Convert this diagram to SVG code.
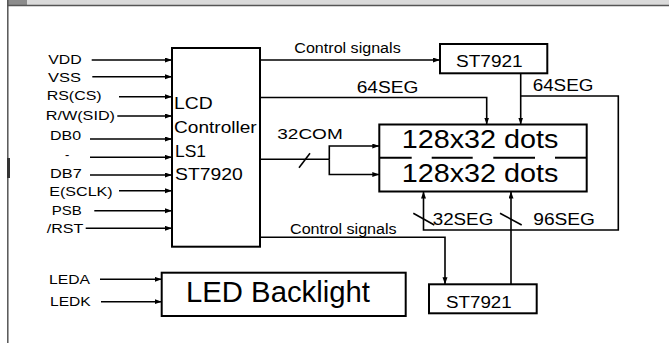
<svg xmlns="http://www.w3.org/2000/svg" width="669" height="343" viewBox="0 0 669 343">
<style>
text{font-family:"Liberation Sans",Arial,sans-serif;fill:#000}
.s{font-size:13px}
.m{font-size:14px}
.l{font-size:16.3px}
.box{fill:#fff;stroke:#000;stroke-width:2}
.c{fill:none;stroke:#000;stroke-width:1.6}
</style>
<defs>
<marker id="ah" markerUnits="userSpaceOnUse" markerWidth="8" markerHeight="6" refX="7" refY="2.5" orient="auto">
<path d="M0,0 L7,2.5 L0,5 z" fill="#000"/>
</marker>
</defs>
<g id="frame">
<rect x="7" y="0" width="662" height="5" fill="#dadada"/>
<rect x="7" y="0" width="20" height="5" fill="#8c8c8c"/>
<line x1="7" y1="5.6" x2="669" y2="5.6" stroke="#555" stroke-width="1.5"/>
<line x1="7.8" y1="0" x2="7.8" y2="343" stroke="#555" stroke-width="1.5"/>
<rect x="7" y="158" width="3" height="20" fill="#333"/>
</g>
<g id="connectors">
<path class="c" marker-end="url(#ah)" d="M91.7,60 H172"/>
<path class="c" marker-end="url(#ah)" d="M92.3,76.7 H172"/>
<path class="c" marker-end="url(#ah)" d="M119,96.7 H172"/>
<path class="c" marker-end="url(#ah)" d="M117.3,116 H172"/>
<path class="c" marker-end="url(#ah)" d="M90,139 H172"/>
<path class="c" marker-end="url(#ah)" d="M90,157.3 H172"/>
<path class="c" marker-end="url(#ah)" d="M90,175 H172"/>
<path class="c" marker-end="url(#ah)" d="M119,190.7 H172"/>
<path class="c" marker-end="url(#ah)" d="M94.3,210.7 H172"/>
<path class="c" marker-end="url(#ah)" d="M85.7,228.3 H172"/>
<path class="c" marker-end="url(#ah)" d="M260,60 H440"/>
<path class="c" marker-end="url(#ah)" d="M260,97.5 H486.7 V124.5"/>
<path class="c" marker-end="url(#ah)" d="M520.7,73.3 V124.5"/>
<path class="c" marker-end="url(#ah)" d="M520.7,96 H618.3 V230 H423.5 V191.5"/>
<path class="c" d="M260,159.3 H329.3"/>
<path class="c" marker-end="url(#ah)" d="M329.3,159.3 V146 H379.3"/>
<path class="c" marker-end="url(#ah)" d="M329.3,159.3 V174.5 H379.3"/>
<path class="c" d="M299,167.7 L310,153.3"/>
<path class="c" marker-end="url(#ah)" d="M260,237.3 H445 V284.3"/>
<path class="c" marker-end="url(#ah)" d="M511,284.3 V191.5"/>
<path class="c" d="M413.3,213.3 L434.3,225"/>
<path class="c" d="M500,213.3 L521.7,225"/>
<path class="c" marker-end="url(#ah)" d="M100,279.3 H161.7"/>
<path class="c" marker-end="url(#ah)" d="M101,301.7 H161.7"/>
</g>
<g id="labels">
<text class="s" x="48.3" y="64.3" textLength="33.4" lengthAdjust="spacingAndGlyphs">VDD</text>
<text class="s" x="48" y="81.7" textLength="33" lengthAdjust="spacingAndGlyphs">VSS</text>
<text class="s" x="46.7" y="100" textLength="55" lengthAdjust="spacingAndGlyphs">RS(CS)</text>
<text class="s" x="45.7" y="120" textLength="69.3" lengthAdjust="spacingAndGlyphs">R/W(SID)</text>
<text class="s" x="50" y="140" textLength="31" lengthAdjust="spacingAndGlyphs">DB0</text>
<text class="s" x="65" y="159">-</text>
<text class="s" x="50" y="178.3" textLength="31.7" lengthAdjust="spacingAndGlyphs">DB7</text>
<text class="s" x="49.3" y="195.5" textLength="63.4" lengthAdjust="spacingAndGlyphs">E(SCLK)</text>
<text class="s" x="51.7" y="215" textLength="30" lengthAdjust="spacingAndGlyphs">PSB</text>
<text class="s" x="46.7" y="233" textLength="36.6" lengthAdjust="spacingAndGlyphs">/RST</text>
<text class="m" x="294.3" y="53.3" textLength="106.4" lengthAdjust="spacingAndGlyphs">Control signals</text>
<text class="l" x="356.7" y="93.3" textLength="61.7" lengthAdjust="spacingAndGlyphs">64SEG</text>
<text class="l" x="532.7" y="91" textLength="60.7" lengthAdjust="spacingAndGlyphs">64SEG</text>
<text style="font-size:15.5px" x="277.3" y="139.3" textLength="65.4" lengthAdjust="spacingAndGlyphs">32COM</text>
<text style="font-size:16px" x="432.7" y="225" textLength="60.6" lengthAdjust="spacingAndGlyphs">32SEG</text>
<text style="font-size:16px" x="533.3" y="225" textLength="61.7" lengthAdjust="spacingAndGlyphs">96SEG</text>
<text class="m" x="290" y="234.3" textLength="106.7" lengthAdjust="spacingAndGlyphs">Control signals</text>
<text class="s" x="49" y="284.3" textLength="41" lengthAdjust="spacingAndGlyphs">LEDA</text>
<text class="s" x="50" y="306" textLength="40.7" lengthAdjust="spacingAndGlyphs">LEDK</text>
</g>
<g id="controller">
<rect class="box" x="172" y="48" width="88" height="198.7"/>
<text style="font-size:16.5px" x="174" y="109.3" textLength="38.7" lengthAdjust="spacingAndGlyphs">LCD</text>
<text style="font-size:16.5px" x="174" y="133" textLength="82.7" lengthAdjust="spacingAndGlyphs">Controller</text>
<text style="font-size:16.5px" x="175" y="156.7" textLength="31" lengthAdjust="spacingAndGlyphs">LS1</text>
<text style="font-size:16.5px" x="175" y="180" textLength="67.7" lengthAdjust="spacingAndGlyphs">ST7920</text>
</g>
<g id="st7921-top">
<rect class="box" x="440" y="44" width="107.3" height="29.3"/>
<text class="l" x="456" y="66.7" textLength="66.7" lengthAdjust="spacingAndGlyphs">ST7921</text>
</g>
<g id="display">
<rect class="box" x="379.3" y="124.5" width="207.4" height="67"/>
<g stroke="#000" stroke-width="2">
<line x1="379.3" y1="157.7" x2="411.7" y2="157.7"/>
<line x1="431.7" y1="157.7" x2="472.7" y2="157.7"/>
<line x1="493.3" y1="157.7" x2="535" y2="157.7"/>
<line x1="555" y1="157.7" x2="586.7" y2="157.7"/>
</g>
<text style="font-size:25.6px" x="401.7" y="148.3" textLength="156.7" lengthAdjust="spacingAndGlyphs">128x32 dots</text>
<text style="font-size:25.6px" x="401.7" y="181.7" textLength="156.7" lengthAdjust="spacingAndGlyphs">128x32 dots</text>
</g>
<g id="st7921-bottom">
<rect class="box" x="429" y="284.3" width="107.7" height="29"/>
<text class="l" x="446" y="307.7" textLength="65.7" lengthAdjust="spacingAndGlyphs">ST7921</text>
</g>
<g id="backlight">
<rect class="box" x="161.7" y="272.7" width="244" height="43.3"/>
<text style="font-size:29px" x="186" y="301.7" textLength="184" lengthAdjust="spacingAndGlyphs">LED Backlight</text>
</g>
</svg>
